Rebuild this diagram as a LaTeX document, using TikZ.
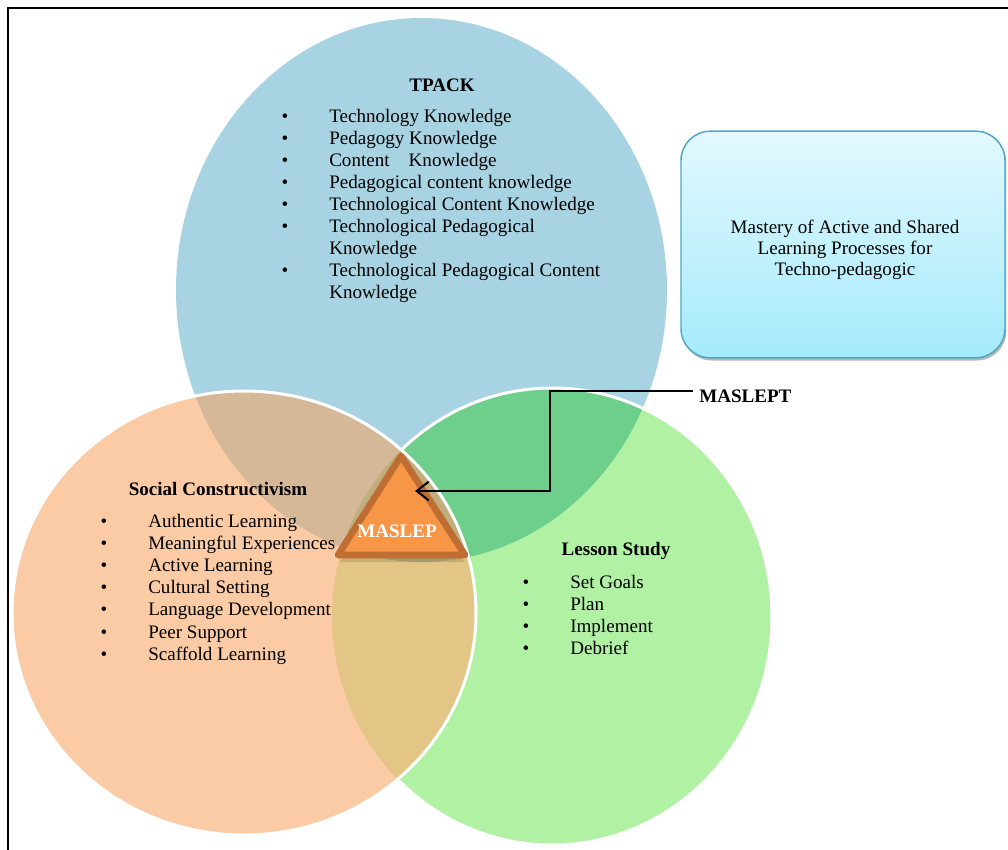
\documentclass[tikz,border=0pt]{standalone}
\usepackage{fontspec}
\setmainfont{Liberation Serif}
\usepackage{tikz}
\usetikzlibrary{arrows.meta,shadows,positioning}

\definecolor{azul}{HTML}{A7D3E2}
\definecolor{verde}{HTML}{B0F1A4}
\definecolor{verdeosc}{HTML}{6ECF8C}
\definecolor{naranja}{HTML}{FACBA5}
\definecolor{marron}{HTML}{D4B898}
\definecolor{tostado}{HTML}{E3C686}
\definecolor{triple}{HTML}{C0AE7E}
\definecolor{triang}{HTML}{F79646}
\definecolor{triangborde}{HTML}{BF6E33}
\definecolor{cajaborde}{HTML}{4FA8C0}
\definecolor{cajaarriba}{HTML}{E2F8FE}
\definecolor{cajaabajo}{HTML}{A5EBFB}

\tikzset{
   tpack/.style={insert path={(421.5,290) ellipse [x radius=245.5, y radius=272]}},
   social/.style={insert path={(244,613) ellipse [x radius=232, y radius=222]}},
   lesson/.style={insert path={(552,616.5) ellipse [x radius=220, y radius=228.5]}},
   texto/.style={font=\fontsize{14.3}{16.5}\selectfont},
   vineta/.style={texto,anchor=base,inner sep=0pt},
   item/.style={texto,anchor=base west,inner sep=0pt},
   titulo/.style={texto,anchor=base,inner sep=0pt,font=\fontsize{14.3}{16.5}\selectfont\bfseries}
}

\begin{document}
\begin{tikzpicture}[x=0.75pt,y=-0.75pt]
   \useasboundingbox (0,0) rectangle (1008,850);
   \clip (0,0) rectangle (1008,850);
   %marco
   \draw[line width=1.5pt] (8,870) -- (8,8) -- (1030,8);
   %circulos
   \path[fill=azul,tpack];
   \path[fill=verde,lesson];
   \begin{scope}
      \path[clip,lesson];
      \path[fill=verdeosc,tpack];
   \end{scope}
   \path[draw=white,line width=2.25pt,lesson];
   \path[fill=naranja,social];
   \begin{scope}
      \path[clip,social];
      \path[fill=marron,tpack];
      \path[fill=tostado,lesson];
      \path[clip,lesson];
      \path[fill=triple,tpack];
   \end{scope}
   \path[draw=white,line width=2.25pt,social];
   %TPACK
   \node[titulo] (tpacktit) at (442,91) {TPACK};
   \foreach \b/\t [count=\i] in {1/Technology Knowledge,
                                 1/Pedagogy Knowledge,
                                 1/Content\quad Knowledge,
                                 1/Pedagogical content knowledge,
                                 1/Technological Content Knowledge,
                                 1/Technological Pedagogical,
                                 0/Knowledge,
                                 1/Technological Pedagogical Content,
                                 0/Knowledge}{
      \ifnum\b=1
         \node[vineta] (tpackb\i) at (285,{122+22*(\i-1)}) {•};
      \fi
      \node[item] (tpack\i) at (329,{122+22*(\i-1)}) {\t};
   }
   %constructivismo social
   \node[titulo] (socialtit) at (218,495) {Social Constructivism};
   \foreach \t [count=\i] in {Authentic Learning, Meaningful Experiences, Active Learning,
                              Cultural Setting, Language Development, Peer Support,
                              Scaffold Learning}{
      \node[vineta] (socialb\i) at (104,{527+22.2*(\i-1)}) {•};
      \node[item] (social\i) at (148,{527+22.2*(\i-1)}) {\t};
   }
   %lesson study
   \node[titulo] (lessontit) at (616,555) {Lesson Study};
   \foreach \t [count=\i] in {Set Goals, Plan, Implement, Debrief}{
      \node[vineta] (lessonb\i) at (526,{588+22.2*(\i-1)}) {•};
      \node[item] (lesson\i) at (570,{588+22.2*(\i-1)}) {\t};
   }
   %triangulo
   \fill[black,opacity=.12,line join=round] (401,463) -- (340,562) -- (465,562) -- cycle;
   \draw[fill=triang,draw=triangborde,line width=5pt,line join=round]
      (401,456) -- (338,555) -- (465,555) -- cycle;
   \node[titulo,text=white] (maslep) at (397,537) {MASLEP};
   %caja
   \node[draw=cajaborde,line width=1.1pt,rounded corners=22pt,
         top color=cajaarriba,bottom color=cajaabajo,
         drop shadow={shadow xshift=1pt,shadow yshift=-2pt,fill=black!40,opacity=.7},
         minimum width=243pt,minimum height=170pt] (caja) at (843,244.5) {};
   \node[texto,align=center,font=\fontsize{14.3}{15.75}\selectfont] (mastery) at (845,250)
      {Mastery of Active and Shared\\Learning Processes for\\Techno-pedagogic};
   %flecha
   \node[titulo,anchor=base west] (maslept) at (699,402) {MASLEPT};
   \coordinate (inicio) at (693,391);
   \coordinate (codo) at (550,440);
   \coordinate (punta) at (415,491);
   \draw[line width=1.5pt,-{Straight Barb[length=9pt,width=14pt]}]
      (inicio) -| (codo) |- (punta);
\end{tikzpicture}
\end{document}
